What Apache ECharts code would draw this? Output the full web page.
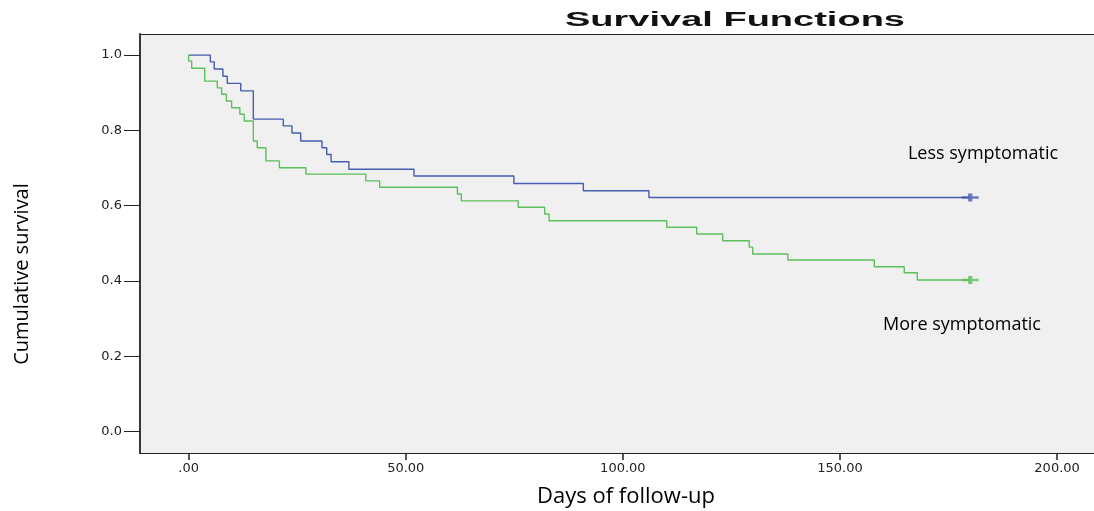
<!DOCTYPE html>
<html>
<head>
<meta charset="utf-8">
<script src="https://cdn.jsdelivr.net/npm/echarts@6/dist/echarts.min.js"></script>
<style>html,body{margin:0;padding:0;background:#fff;overflow:hidden;}#c{width:1094px;height:511px;}</style>
</head>
<body>
<div id="c"></div>
<script>
// ---- data ----
const titleText = 'Survival Functions';
const xAxisTitle = 'Days of follow-up';
const yAxisTitle = 'Cumulative survival';
const xTicks = [0, 50, 100, 150, 200];
const yTicks = [0, 0.2, 0.4, 0.6, 0.8, 1.0];

const lessName = 'Less symptomatic';
const lessTimes = [0, 5.0, 5.9, 7.9, 8.9, 12.0, 14.9, 21.8, 23.8, 25.8, 30.7, 31.8, 32.8, 36.9, 51.9, 74.9, 90.9, 106.0, 180];
const lessSurv  = [1.0, 0.982, 0.963, 0.944, 0.925, 0.905, 0.830, 0.812, 0.793, 0.772, 0.754, 0.736, 0.717, 0.697, 0.679, 0.659, 0.640, 0.622, 0.622];
const lessCensorTime = [180];
const lessCensorSurv = [0.622];

const moreName = 'More symptomatic';
const moreTimes = [0, 0, 0.7, 3.7, 6.6, 7.6, 8.7, 9.9, 11.8, 12.8, 14.9, 15.8, 17.8, 20.9, 27.0, 40.8, 44.0, 61.9, 62.8, 75.9, 82.0, 83.0, 110.1, 117.0, 123.0, 129.1, 129.9, 138.0, 157.9, 164.8, 167.8, 180];
const moreSurv  = [1.0, 0.984, 0.965, 0.931, 0.913, 0.896, 0.878, 0.860, 0.843, 0.825, 0.772, 0.754, 0.719, 0.701, 0.684, 0.666, 0.649, 0.631, 0.613, 0.596, 0.578, 0.560, 0.543, 0.525, 0.507, 0.490, 0.472, 0.456, 0.438, 0.422, 0.403, 0.403];
const moreCensorTime = [180];
const moreCensorSurv = [0.403];

const blue = '#465cb0';
const green = '#5cbf5c';

function pairs(xs, ys) { return xs.map((x, i) => [x, ys[i]]); }

const chart = echarts.init(document.getElementById('c'), null, {renderer: 'canvas'});
const censorSymbol = 'path://M0,2.8H16V5.2H0Z M6,0H10V8H6Z';

chart.setOption({
  animation: false,
  backgroundColor: '#ffffff',
  grid: {
    left: 140, top: 34, bottom: 58, right: 0,
    show: true, backgroundColor: '#f0f0f0', borderWidth: 0
  },
  xAxis: [{
    type: 'value', min: -11.2, max: 208.5, position: 'bottom',
    splitLine: {show: false},
    axisLine: {show: true, onZero: false, lineStyle: {color: '#222', width: 1.2}},
    axisTick: {show: true, length: 7, customValues: xTicks, lineStyle: {color: '#222', width: 1.5}},
    axisLabel: {
      customValues: xTicks, margin: 9, color: '#222',
      fontFamily: 'DejaVu Sans', fontSize: 13,
      formatter: v => v === 0 ? '.00' : v.toFixed(2)
    }
  }, {
    type: 'value', min: -11.2, max: 208.5, position: 'top',
    splitLine: {show: false},
    axisLine: {show: true, onZero: false, lineStyle: {color: '#222', width: 1.2}},
    axisTick: {show: false}, axisLabel: {show: false}
  }],
  yAxis: {
    type: 'value', min: -0.0565, max: 1.056,
    splitLine: {show: false},
    axisLine: {show: true, onZero: false, lineStyle: {color: '#222', width: 1.8}},
    axisTick: {show: true, length: 16, customValues: yTicks, lineStyle: {color: '#222', width: 1}},
    axisLabel: {
      customValues: yTicks, margin: 18, color: '#222',
      fontFamily: 'DejaVu Sans', fontSize: 13,
      formatter: v => v.toFixed(1)
    }
  },
  series: [
    {
      name: lessName, type: 'line', step: 'end', showSymbol: false,
      data: pairs(lessTimes, lessSurv),
      lineStyle: {color: blue, width: 1.4}, itemStyle: {color: blue}
    },
    {
      name: moreName, type: 'line', step: 'end', showSymbol: false,
      data: pairs(moreTimes, moreSurv),
      lineStyle: {color: green, width: 1.4}, itemStyle: {color: green}
    },
    {
      type: 'scatter', symbol: censorSymbol, symbolSize: [17, 8],
      data: pairs(lessCensorTime, lessCensorSurv), itemStyle: {color: blue}
    },
    {
      type: 'scatter', symbol: censorSymbol, symbolSize: [17, 8],
      data: pairs(moreCensorTime, moreCensorSurv), itemStyle: {color: green}
    }
  ],
  graphic: [
    {
      type: 'text', x: 735, y: 20, scaleX: 1.9, scaleY: 1,
      style: {text: titleText, fill: '#111', font: 'bold 20px "Liberation Sans", Arial, sans-serif', textAlign: 'center', textVerticalAlign: 'middle'}
    },
    {
      type: 'text', x: 626, y: 497,
      style: {text: xAxisTitle, fill: '#000', font: '22px "Open Sans", sans-serif', textAlign: 'center', textVerticalAlign: 'middle'}
    },
    {
      type: 'text', x: 22, y: 274, rotation: Math.PI / 2,
      style: {text: yAxisTitle, fill: '#000', font: '20px "Open Sans", sans-serif', textAlign: 'center', textVerticalAlign: 'middle'}
    },
    {
      type: 'text', x: 983, y: 154,
      style: {text: lessName, fill: '#000', font: '18px "Open Sans", sans-serif', textAlign: 'center', textVerticalAlign: 'middle'}
    },
    {
      type: 'text', x: 962, y: 325,
      style: {text: moreName, fill: '#000', font: '18px "Open Sans", sans-serif', textAlign: 'center', textVerticalAlign: 'middle'}
    }
  ]
});
</script>
</body>
</html>
